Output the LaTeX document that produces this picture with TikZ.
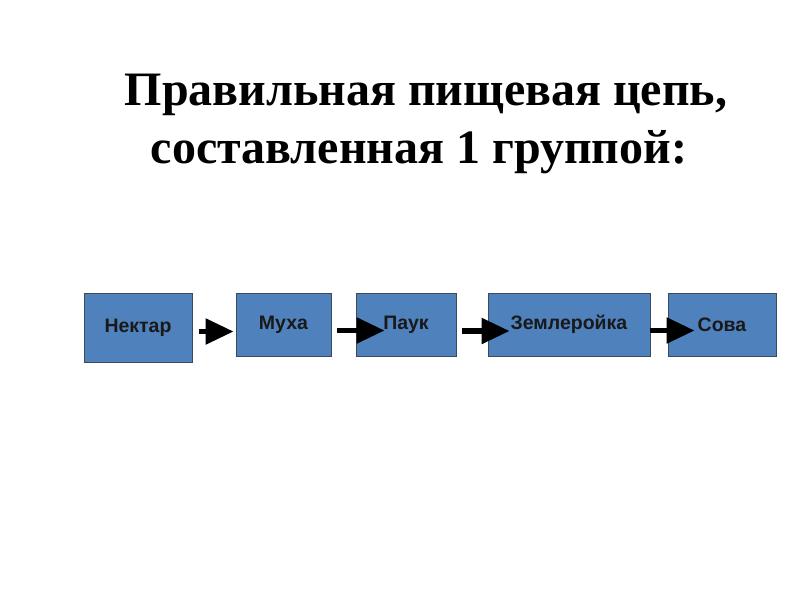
\documentclass[tikz,border=0pt]{standalone}
\usepackage{fontspec}
\setmainfont{Liberation Serif}
\newfontfamily\boxfont{Liberation Sans}
\usetikzlibrary{arrows.meta}
\definecolor{boxblue}{HTML}{4F81BD}
\definecolor{boxline}{HTML}{3A4A5E}
\tikzset{
  chainbox/.style={draw=boxline,line width=0.9pt,fill=boxblue,inner sep=0pt,
    font=\boxfont\bfseries\fontsize{19.5}{22}\selectfont,text=black!90},
  chainarrow/.style={line width=5.5pt,-{Triangle[length=28pt,width=25pt]}},
  titletext/.style={anchor=base,font=\bfseries\fontsize{48}{54}\selectfont}
}
\begin{document}
\begin{tikzpicture}[x=1pt,y=-1pt,line join=miter]
\useasboundingbox (0,0) rectangle (800,600);
% ---- title ----
\node[titletext] (title1) at (426,105) {Правильная пищевая цепь,};
\node[titletext] (title2) at (419,163) {составленная 1 группой:};

% ---- food chain boxes ----
\node[chainbox,minimum width=108pt,minimum height=69pt] (nektar) at (138,327.5) {Нектар};
\node[chainbox,minimum width=95pt,minimum height=63pt] (mukha) at (283.5,324.5) {Муха};
\node[chainbox,minimum width=100pt,minimum height=63pt] (pauk) at (406,324.5) {Паук};
\node[chainbox,minimum width=162pt,minimum height=63pt] (zemleroika) at (569,324.5) {Землеройка};
\node[chainbox,minimum width=108pt,minimum height=63pt] (sova) at (722,324.5) {Сова};

% ---- arrows (drawn over the boxes) ----
\draw[chainarrow,shorten <=7pt,shorten >=2pt] ([yshift=-4pt]nektar.east) -- ([yshift=-7pt]mukha.west);
\draw[chainarrow,shorten <=6pt,shorten >=-29pt] ([yshift=-6pt]mukha.east) -- ([yshift=-6pt]pauk.west);
\draw[chainarrow,shorten <=6pt,shorten >=-22pt] ([yshift=-6.5pt]pauk.east) -- ([yshift=-6.5pt]zemleroika.west);
\draw[chainarrow,shorten >=-27pt] ([yshift=-6pt]zemleroika.east) -- ([yshift=-6pt]sova.west);
\end{tikzpicture}
\end{document}
